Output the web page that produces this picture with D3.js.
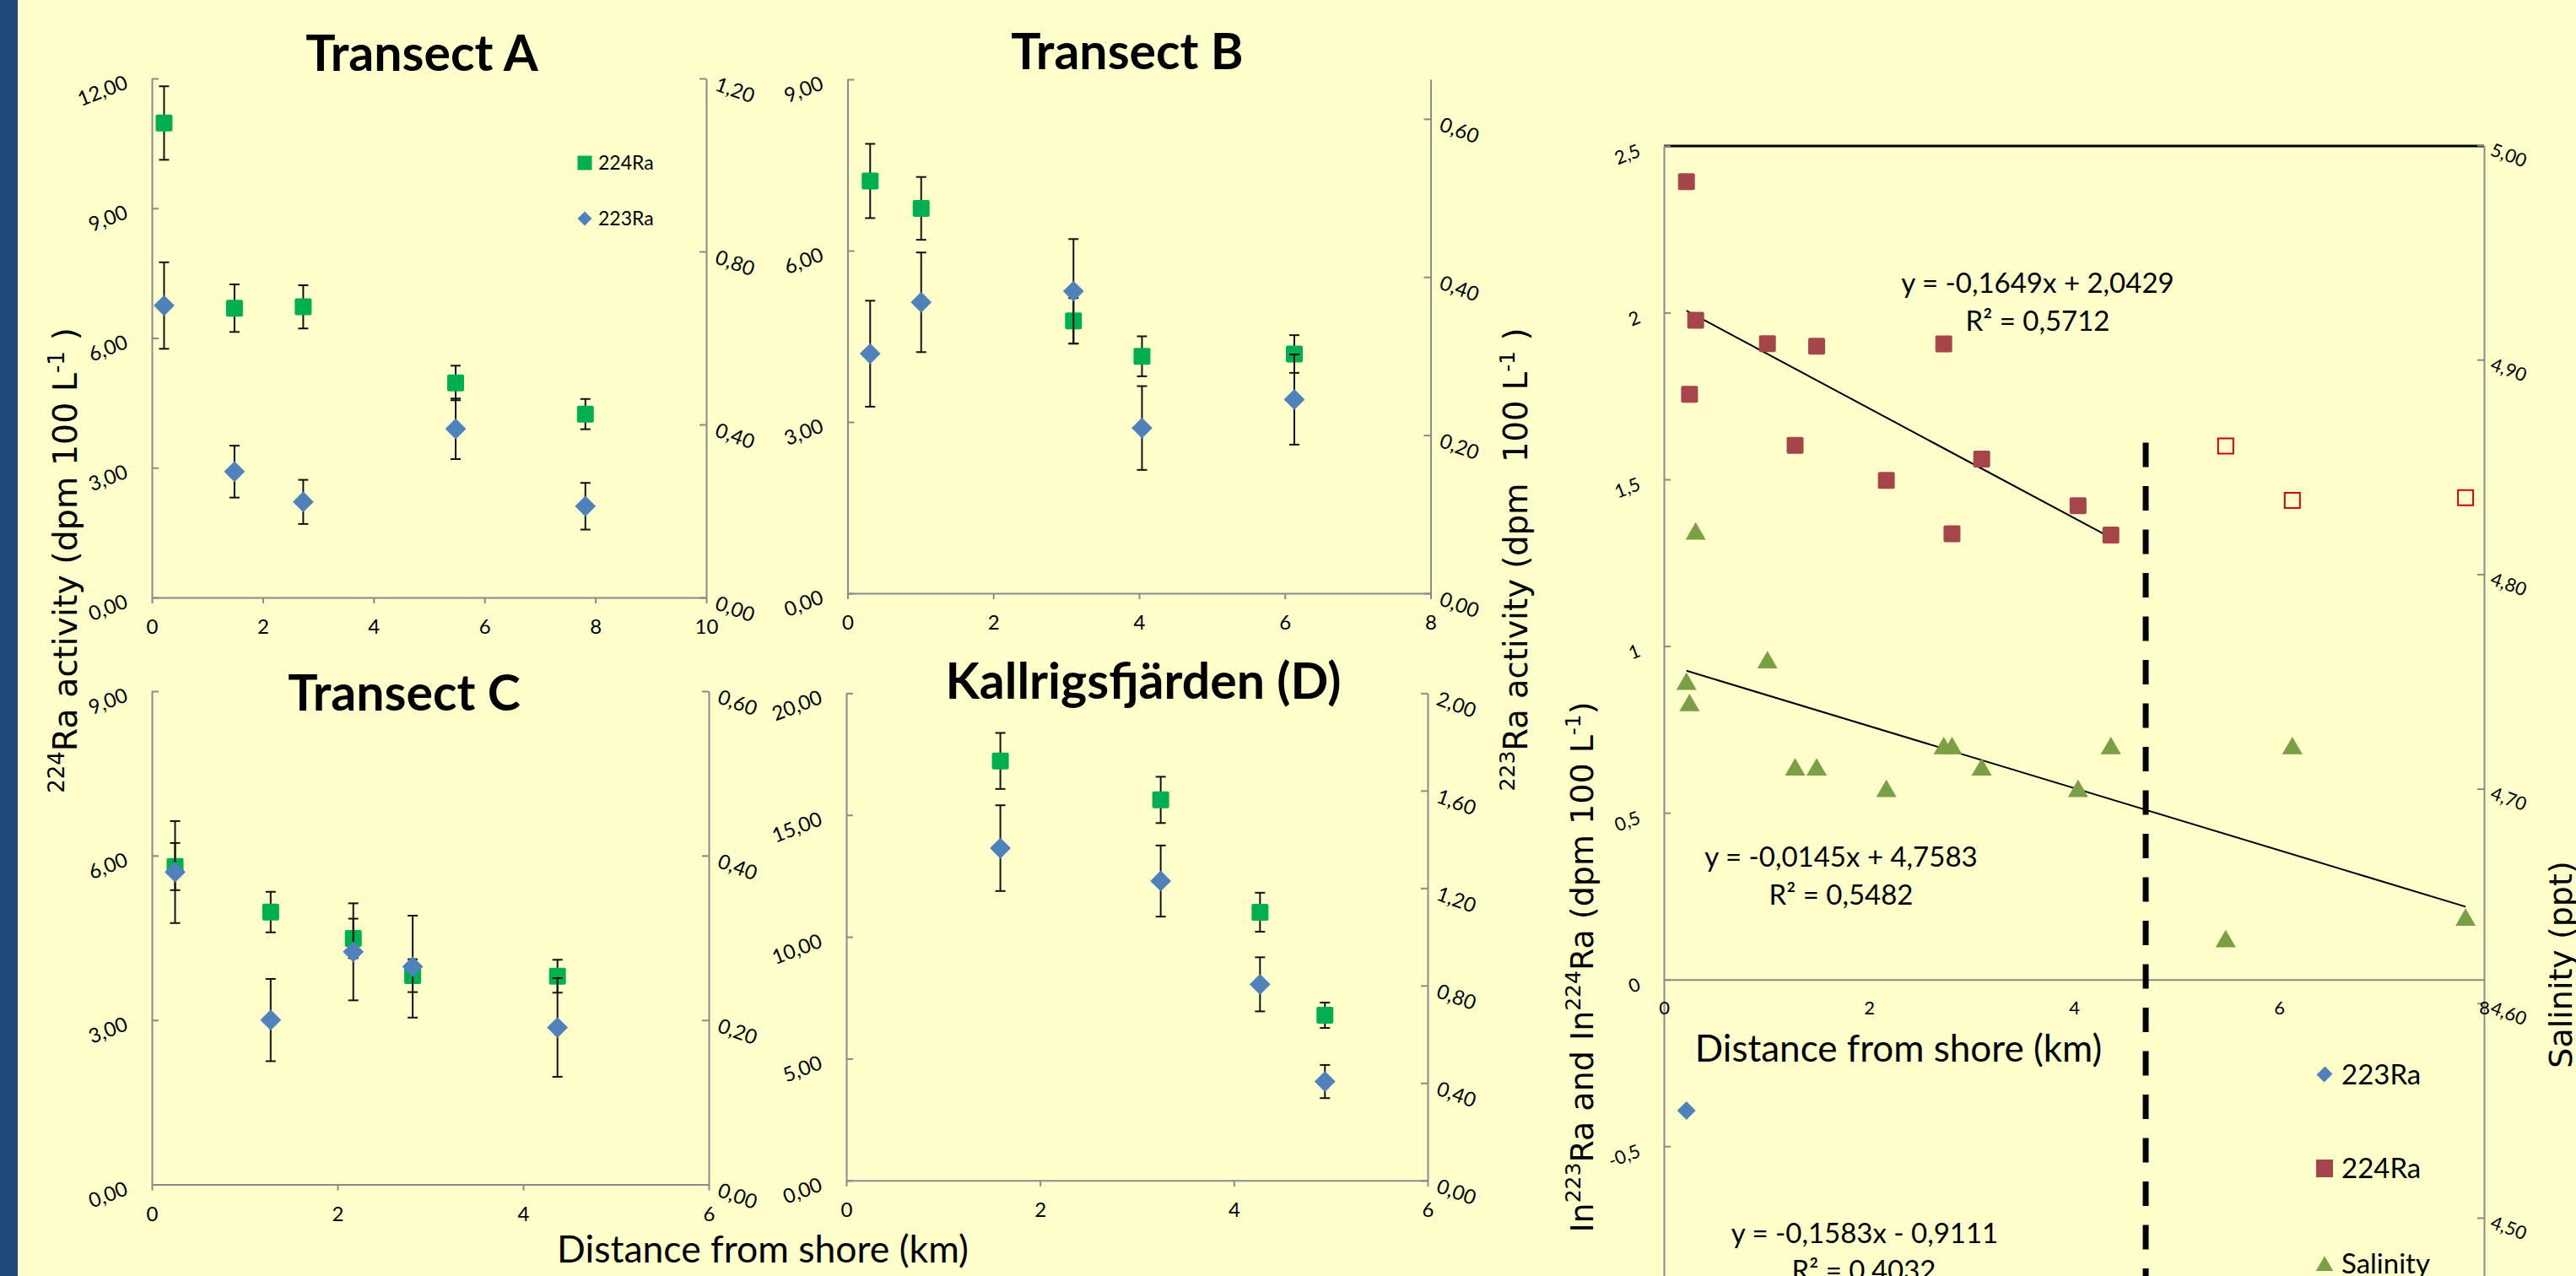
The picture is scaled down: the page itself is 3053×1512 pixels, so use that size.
<!DOCTYPE html>
<html><head><meta charset="utf-8">
<script src="https://cdn.jsdelivr.net/npm/d3@7"></script>
<style>
html,body{margin:0;padding:0;background:#FFFFCC;}
svg{display:block;}
text{white-space:pre;}
</style></head><body>
<svg id="chart" width="3053" height="1512"></svg>
<script>
// ---------------- DATA ----------------
// Transect A
const aDist      = [0.22, 1.49, 2.73, 5.48, 7.82];
const aRa224     = [10.97, 6.69, 6.72, 4.96, 4.24];
const aRa224Err  = [0.85, 0.55, 0.50, 0.40, 0.35];
const aRa223     = [0.675, 0.291, 0.221, 0.390, 0.211];
const aRa223Err  = [0.100, 0.060, 0.051, 0.070, 0.054];
// Transect B
const bDist      = [0.31, 1.01, 3.10, 4.04, 6.13];
const bRa224     = [7.22, 6.74, 4.77, 4.15, 4.19];
const bRa224Err  = [0.65, 0.55, 0.40, 0.35, 0.33];
const bRa223     = [0.303, 0.368, 0.382, 0.209, 0.245];
const bRa223Err  = [0.067, 0.063, 0.066, 0.053, 0.057];
// Transect C
const cDist      = [0.25, 1.28, 2.17, 2.81, 4.37];
const cRa224     = [5.80, 4.97, 4.49, 3.81, 3.80];
const cRa224Err  = [0.43, 0.37, 0.36, 0.30, 0.30];
const cRa223     = [0.380, 0.200, 0.283, 0.265, 0.191];
const cRa223Err  = [0.062, 0.050, 0.059, 0.062, 0.060];
// Kallrigsfjärden (D)
const dDist      = [1.59, 3.245, 4.27, 4.94];
const dRa224     = [17.22, 15.62, 11.01, 6.78];
const dRa224Err  = [1.15, 0.95, 0.80, 0.52];
const dRa223     = [1.364, 1.229, 0.805, 0.406];
const dRa223Err  = [0.176, 0.146, 0.111, 0.068];

// Tick values
const aXTicks = [0, 2, 4, 6, 8, 10], aLTicks = [0, 3, 6, 9, 12], aRTicks = [0, 0.4, 0.8, 1.2];
const bXTicks = [0, 2, 4, 6, 8],     bLTicks = [0, 3, 6, 9],     bRTicks = [0, 0.2, 0.4, 0.6];
const cXTicks = [0, 2, 4, 6],        cLTicks = [0, 3, 6, 9],     cRTicks = [0, 0.2, 0.4, 0.6];
const dXTicks = [0, 2, 4, 6],        dLTicks = [0, 5, 10, 15, 20], dRTicks = [0, 0.4, 0.8, 1.2, 1.6, 2.0];

// Right chart (ln Ra and salinity)
const lnDist224     = [0.22, 0.31, 0.25, 1.01, 1.49, 1.28, 2.17, 2.73, 3.10, 2.81, 4.04, 4.36];
const ln224         = [2.393, 1.977, 1.755, 1.907, 1.899, 1.602, 1.497, 1.906, 1.561, 1.337, 1.421, 1.333];
const lnDist224Out  = [5.48, 6.13, 7.82];
const ln224Out      = [1.600, 1.437, 1.445];
const lnDist223     = [0.22];
const ln223         = [-0.393];
const salDist       = [0.22, 0.25, 0.31, 1.01, 1.28, 1.49, 2.17, 2.73, 2.81, 3.10, 4.04, 4.36, 5.48, 6.13, 7.82];
const salinity      = [4.750, 4.740, 4.820, 4.760, 4.710, 4.710, 4.700, 4.720, 4.720, 4.710, 4.700, 4.720, 4.630, 4.720, 4.640];
const trend224Dist  = [0.22, 4.36];
const trend224Val   = [2.006, 1.325];
const trendSalDist  = [0.22, 7.82];
const trendSalVal   = [4.755, 4.645];
const boundaryDist  = [4.70, 4.70];
const boundaryVal   = [1.61, -1.0];
const lnXTicks = [0, 2, 4, 6, 8];
const lnLTicks = [-1, -0.5, 0, 0.5, 1, 1.5, 2, 2.5];
const lnRTicks = [4.5, 4.6, 4.7, 4.8, 4.9, 5.0];

const eq224 = ["y = -0,1649x + 2,0429", "R² = 0,5712"];
const eqSal = ["y = -0,0145x + 4,7583", "R² = 0,5482"];
const eq223 = ["y = -0,1583x - 0,9111", "R² = 0,4032"];

// ---------------- STYLE ----------------
const BG = "#FFFFCC", BAR = "#1F497D", AXIS = "#8A8A8A";
const GREEN = "#00B050", BLUE = "#4F81BD", RED = "#A6454A", OPENRED = "#D00000", OLIVE = "#7A9F45";
const F = "Lato, 'Open Sans', sans-serif";
const FV = "'DejaVu Sans', Verdana, sans-serif";

const fmt2 = d => d3.format(".2f")(d).replace(".", ",");
const fmtL = d => String(d).replace(".", ",");

const svg = d3.select("#chart");
svg.append("rect").attr("width", 3053).attr("height", 1512).attr("fill", BG);
svg.append("rect").attr("width", 21).attr("height", 1512).attr("fill", BAR);

function styleAxis(g, size) {
  g.attr("font-family", F).attr("font-size", size);
  g.selectAll("path,line").attr("stroke", AXIS).attr("stroke-width", 2);
  g.selectAll("text").attr("fill", "#000");
}

function rich(parent, parts, size, supSize, shift) {
  const t = parent.append("text").attr("font-family", FV).attr("font-size", size)
    .attr("fill", "#000").attr("text-anchor", "middle");
  let prevSup = false;
  parts.forEach(p => {
    const ts = t.append("tspan").text(p.t);
    if (p.sup) { ts.attr("font-size", supSize).attr("dy", prevSup ? 0 : -shift); }
    else if (prevSup) { ts.attr("dy", shift); }
    prevSup = !!p.sup;
  });
  return t;
}

function rows(xs, vs, es) { return xs.map((x, i) => ({ x: x, v: vs[i], e: es ? es[i] : 0 })); }

const sqSym = d3.symbol().type(d3.symbolSquare);
const triSym = d3.symbol().type(d3.symbolTriangle);

function errorBars(g, data, x, y) {
  const eg = g.append("g").attr("stroke", "#111").attr("stroke-width", 2);
  eg.selectAll(".ev").data(data).join("line").attr("class", "ev")
    .attr("x1", d => x(d.x)).attr("x2", d => x(d.x))
    .attr("y1", d => y(d.v - d.e)).attr("y2", d => y(d.v + d.e));
  eg.selectAll(".ct").data(data).join("line").attr("class", "ct")
    .attr("x1", d => x(d.x) - 6).attr("x2", d => x(d.x) + 6)
    .attr("y1", d => y(d.v + d.e)).attr("y2", d => y(d.v + d.e));
  eg.selectAll(".cb").data(data).join("line").attr("class", "cb")
    .attr("x1", d => x(d.x) - 6).attr("x2", d => x(d.x) + 6)
    .attr("y1", d => y(d.v - d.e)).attr("y2", d => y(d.v - d.e));
}

function squares(g, data, x, y, size, fill) {
  g.append("g").selectAll("rect").data(data).join("rect")
    .attr("x", d => x(d.x) - size / 2).attr("y", d => y(d.v) - size / 2)
    .attr("width", size).attr("height", size).attr("rx", 2)
    .attr("fill", fill);
}

function diamonds(g, data, x, y, side, fill) {
  g.append("g").selectAll("path").data(data).join("path")
    .attr("d", sqSym.size(side * side)())
    .attr("transform", d => `translate(${x(d.x)},${y(d.v)}) rotate(45)`)
    .attr("fill", fill);
}

function drawPanel(p) {
  const g = svg.append("g");
  const x = d3.scaleLinear().domain(p.xDomain).range([p.left, p.right]);
  const yL = d3.scaleLinear().domain(p.lDomain).range([p.bottom, p.top]);
  const yR = d3.scaleLinear().domain(p.rDomain).range([p.bottom, p.top]);

  const gl = g.append("g").attr("transform", `translate(${p.left},0)`)
    .call(d3.axisLeft(yL).tickValues(p.lTicks).tickSize(-8).tickSizeOuter(0).tickFormat(fmt2));
  gl.selectAll("text").attr("x", 0).attr("dy", "0.35em").attr("text-anchor", "end")
    .attr("transform", "translate(-30,3) rotate(-21)");
  const gr = g.append("g").attr("transform", `translate(${p.right},0)`)
    .call(d3.axisRight(yR).tickValues(p.rTicks).tickSize(-8).tickSizeOuter(0).tickFormat(fmt2));
  gr.selectAll("text").attr("x", 0).attr("dy", "0.35em").attr("text-anchor", "start")
    .attr("transform", "translate(12,5) rotate(20)");
  const gx = g.append("g").attr("transform", `translate(0,${p.bottom})`)
    .call(d3.axisBottom(x).tickValues(p.xTicks).tickSize(7).tickSizeOuter(0).tickFormat(d3.format("d")));
  gx.selectAll("text").attr("y", 35).attr("dy", "0.35em");
  [gl, gr, gx].forEach(a => styleAxis(a, 24));

  const d224 = rows(p.dist, p.ra224, p.ra224Err);
  const d223 = rows(p.dist, p.ra223, p.ra223Err);
  errorBars(g, d224, x, yL);
  squares(g, d224, x, yL, 20, GREEN);
  errorBars(g, d223, x, yR);
  diamonds(g, d223, x, yR, 17.5, BLUE);

  g.append("text").attr("x", p.titleX).attr("y", p.titleY).attr("text-anchor", "middle")
    .attr("font-family", F).attr("font-weight", 700).attr("font-size", 59).attr("fill", "#000")
    .text(p.title);
  return { g, x, yL, yR };
}

drawPanel({ left: 180, right: 837, top: 93, bottom: 708, xDomain: [0, 10], lDomain: [0, 12], rDomain: [0, 1.2],
  xTicks: aXTicks, lTicks: aLTicks, rTicks: aRTicks, dist: aDist, ra224: aRa224, ra224Err: aRa224Err, ra223: aRa223, ra223Err: aRa223Err,
  title: "Transect A", titleX: 500, titleY: 84 });
drawPanel({ left: 1004.5, right: 1695.5, top: 94, bottom: 703, xDomain: [0, 8], lDomain: [0, 9], rDomain: [0, 0.65],
  xTicks: bXTicks, lTicks: bLTicks, rTicks: bRTicks, dist: bDist, ra224: bRa224, ra224Err: bRa224Err, ra223: bRa223, ra223Err: bRa223Err,
  title: "Transect B", titleX: 1336, titleY: 82 });
drawPanel({ left: 180, right: 840, top: 819, bottom: 1403.6, xDomain: [0, 6], lDomain: [0, 9], rDomain: [0, 0.6],
  xTicks: cXTicks, lTicks: cLTicks, rTicks: cRTicks, dist: cDist, ra224: cRa224, ra224Err: cRa224Err, ra223: cRa223, ra223Err: cRa223Err,
  title: "Transect C", titleX: 479, titleY: 842 });
drawPanel({ left: 1003, right: 1692, top: 821.4, bottom: 1398.8, xDomain: [0, 6], lDomain: [0, 20], rDomain: [0, 2],
  xTicks: dXTicks, lTicks: dLTicks, rTicks: dRTicks, dist: dDist, ra224: dRa224, ra224Err: dRa224Err, ra223: dRa223, ra223Err: dRa223Err,
  title: "Kallrigsfjärden (D)", titleX: 1355, titleY: 828 });

// Legend of Transect A
const lg = svg.append("g").attr("font-family", F).attr("font-size", 23).attr("fill", "#000");
lg.append("rect").attr("x", 693 - 8.5).attr("y", 193 - 8.5).attr("width", 17).attr("height", 17).attr("fill", GREEN);
lg.append("text").attr("x", 709).attr("y", 193).attr("dy", "0.35em").text("224Ra");
lg.append("path").attr("d", sqSym.size(12 * 12)()).attr("transform", "translate(693,259) rotate(45)").attr("fill", BLUE);
lg.append("text").attr("x", 709).attr("y", 259).attr("dy", "0.35em").text("223Ra");

// Axis titles for the panels
rich(svg.append("g").attr("transform", "translate(91,664) rotate(-90)"),
  [{ t: "224", sup: 1 }, { t: "Ra activity (dpm 100 L" }, { t: "-1", sup: 1 }, { t: " )" }], 39.5, 26, 15);
rich(svg.append("g").attr("transform", "translate(1810,663) rotate(-90)"),
  [{ t: "223", sup: 1 }, { t: "Ra activity (dpm  100 L" }, { t: "-1", sup: 1 }, { t: " )" }], 38.5, 25, 15);
svg.append("text").attr("x", 904).attr("y", 1496).attr("text-anchor", "middle")
  .attr("font-family", F).attr("font-size", 44.5).attr("fill", "#000").text("Distance from shore (km)");

// ---------------- RIGHT CHART ----------------
const xR = d3.scaleLinear().domain([0, 8]).range([1972, 2944]);
const yRL = d3.scaleLinear().domain([-1, 2.5]).range([1555.8, 172.9]);
const yRR = d3.scaleLinear().domain([4.4, 5.0]).range([1697.2, 172]);
const rg = svg.append("g");

// top frame line
rg.append("line").attr("x1", xR(0)).attr("x2", xR(8)).attr("y1", yRL(2.5)).attr("y2", yRL(2.5))
  .attr("stroke", "#000").attr("stroke-width", 3);

const rl = rg.append("g").attr("transform", `translate(${xR(0)},0)`)
  .call(d3.axisLeft(yRL).tickValues(lnLTicks).tickSize(-8).tickSizeOuter(0).tickFormat(fmtL));
rl.selectAll("text").attr("x", 0).attr("dy", "0.35em").attr("text-anchor", "end")
  .attr("transform", "translate(-29,4) rotate(-21)");
const rr = rg.append("g").attr("transform", `translate(${xR(8)},0)`)
  .call(d3.axisRight(yRR).tickValues(lnRTicks).tickSize(-8).tickSizeOuter(0).tickFormat(fmt2));
rr.selectAll("text").attr("x", 0).attr("dy", "0.35em").attr("text-anchor", "start")
  .attr("transform", "translate(9,4) rotate(20)");
const rx = rg.append("g").attr("transform", `translate(0,${yRL(0)})`)
  .call(d3.axisBottom(xR).tickValues(lnXTicks).tickSize(0).tickSizeOuter(0).tickFormat(d3.format("d")));
rx.selectAll("text").attr("y", 34).attr("dy", "0.35em");
[rl, rr, rx].forEach(a => styleAxis(a, 22));

// boundary dashed line
rg.append("line").attr("x1", xR(boundaryDist[0])).attr("x2", xR(boundaryDist[1]))
  .attr("y1", yRL(boundaryVal[0])).attr("y2", yRL(boundaryVal[1]))
  .attr("stroke", "#000").attr("stroke-width", 7).attr("stroke-dasharray", "29,22.5");

// trend lines
rg.append("line").attr("x1", xR(trend224Dist[0])).attr("x2", xR(trend224Dist[1]))
  .attr("y1", yRL(trend224Val[0])).attr("y2", yRL(trend224Val[1])).attr("stroke", "#000").attr("stroke-width", 2);
rg.append("line").attr("x1", xR(trendSalDist[0])).attr("x2", xR(trendSalDist[1]))
  .attr("y1", yRR(trendSalVal[0])).attr("y2", yRR(trendSalVal[1])).attr("stroke", "#000").attr("stroke-width", 2);

// markers
const r224 = rows(lnDist224, ln224), r224o = rows(lnDist224Out, ln224Out);
const r223 = rows(lnDist223, ln223), rSal = rows(salDist, salinity);
squares(rg, r224, xR, yRL, 20, RED);
rg.append("g").selectAll("rect").data(r224o).join("rect")
  .attr("x", d => xR(d.x) - 9).attr("y", d => yRL(d.v) - 9).attr("width", 18).attr("height", 18)
  .attr("fill", "none").attr("stroke", OPENRED).attr("stroke-width", 2);
rg.append("g").selectAll("path").data(rSal).join("path")
  .attr("d", triSym.size(250)())
  .attr("transform", d => `translate(${xR(d.x)},${yRR(d.v) + 3})`).attr("fill", OLIVE);
diamonds(rg, r223, xR, yRL, 15.5, BLUE);

// equations
const eqg = rg.append("g").attr("font-family", F).attr("font-size", 33).attr("fill", "#000").attr("text-anchor", "middle");
eqg.append("text").attr("x", 2415).attr("y", 347).text(eq224[0]);
eqg.append("text").attr("x", 2415).attr("y", 392).text(eq224[1]);
eqg.append("text").attr("x", 2182).attr("y", 1027).text(eqSal[0]);
eqg.append("text").attr("x", 2182).attr("y", 1072).text(eqSal[1]);
eqg.append("text").attr("x", 2210).attr("y", 1473).text(eq223[0]);
eqg.append("text").attr("x", 2209).attr("y", 1517).text(eq223[1]);

rg.append("text").attr("x", 2250).attr("y", 1258).attr("text-anchor", "middle")
  .attr("font-family", F).attr("font-size", 44).attr("fill", "#000").text("Distance from shore (km)");

// legend
const rlg = rg.append("g").attr("font-family", F).attr("font-size", 33).attr("fill", "#000");
rlg.append("path").attr("d", d3.symbol().type(d3.symbolSquare).size(14 * 14)()).attr("transform", "translate(2755,1273) rotate(45) scale(0.9,1)").attr("fill", BLUE);
rlg.append("text").attr("x", 2775).attr("y", 1285).text("223Ra");
rlg.append("rect").attr("x", 2745).attr("y", 1374).attr("width", 20).attr("height", 21).attr("fill", RED);
rlg.append("text").attr("x", 2775).attr("y", 1396).text("224Ra");
rlg.append("path").attr("d", triSym.size(180)()).attr("transform", "translate(2755,1500)").attr("fill", OLIVE);
rlg.append("text").attr("x", 2775).attr("y", 1509).text("Salinity");

// axis titles of right chart
rich(svg.append("g").attr("transform", "translate(1888,1146) rotate(-90)"),
  [{ t: "In" }, { t: "223", sup: 1 }, { t: "Ra and In" }, { t: "224", sup: 1 }, { t: "Ra (dpm 100 L" }, { t: "-1", sup: 1 }, { t: ")" }], 38, 25, 15);
rich(svg.append("g").attr("transform", "translate(3048,1143) rotate(-90)"),
  [{ t: "Salinity (ppt)" }], 38, 25, 15);
</script>
</body></html>
